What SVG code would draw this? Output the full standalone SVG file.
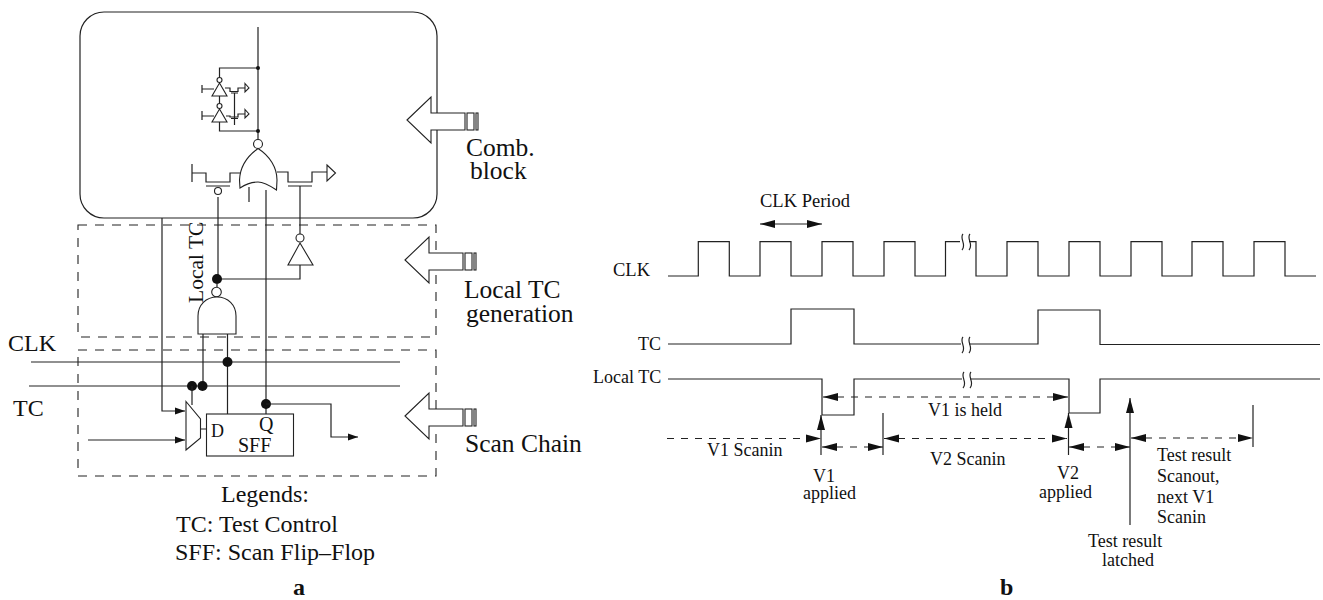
<svg xmlns="http://www.w3.org/2000/svg" width="1323" height="600" viewBox="0 0 1323 600">
<defs>
<marker id="ah" markerUnits="userSpaceOnUse" markerWidth="16" markerHeight="9" refX="15" refY="4.500" orient="auto-start-reverse"><path d="M0 0.500L15 4.500L0 8.500Z" fill="#111"/></marker>
<marker id="sm" markerUnits="userSpaceOnUse" markerWidth="11" markerHeight="8" refX="10" refY="4" orient="auto"><path d="M0 0.500L10 4L0 7.500Z" fill="#111"/></marker>
<g id="block"><path d="M0 0L24 -23V-7H58V10H24V23Z"/><rect x="60" y="-7" width="7" height="17"/><rect x="69" y="-7" width="2" height="17"/></g>
</defs>
<style>
text{font-family:"Liberation Serif","Times New Roman",serif;fill:#111}
.l{font-size:18px}
.m{font-size:24px}
.b{font-size:25.500px}
.w{fill:none;stroke:#222;stroke-width:1.200}
.g{fill:#fff;stroke:#222;stroke-width:1.100}
.d{fill:none;stroke:#222;stroke-width:1.100;stroke-dasharray:9 8}
.t{fill:none;stroke:#222;stroke-width:1.100;stroke-dasharray:7 7}
.n{fill:#111}
</style>
<rect width="1323" height="600" fill="#fff"/>
<g id="comb-block"><rect class="w" x="80" y="12" width="357" height="206" rx="24"/></g>
<g id="local-tc-generation"><rect class="d" x="78" y="225" width="358" height="112"/></g>
<g id="scan-chain"><rect class="d" x="78" y="350" width="358" height="126"/></g>
<g id="small-gates">
<path class="w" d="M258 27V144M258 68H219.500V77.500M258 131H219.500V122M219.500 96V103.500"/>
<circle class="n" cx="258" cy="68" r="2"/><circle class="n" cx="258" cy="131" r="2"/>
<circle class="g" cx="219.500" cy="80" r="2.500"/><circle class="g" cx="219.500" cy="106" r="2.500"/>
<path class="g" d="M219.500 83L227 96H212Z"/><path class="g" d="M219.500 109L227 122H212Z"/>
<path class="w" d="M202 85V93M202 89H214M225 88H230V91.500H238V88H245M231 93H238M234.500 93V125M202 111V120M202 116H214M226 116H230V117H238V114H245M231 118.500H238"/>
<path class="g" d="M245 83.500L249 88L245 92Z"/><path class="g" d="M245 109.500L249 114L245 118Z"/>
</g>
<g id="nor-gate">
<circle class="g" cx="258" cy="144" r="4.500"/>
<path class="g" d="M258 148.500C270 156 277 168 277 180L276.500 190C269 185 263 182 258 182C251 182 246 184 240 188L239.500 180C240 168 246 157 258 148.500Z"/>
<path class="w" d="M192 164V182M192 173H206V182H230V173H240M206 186H230M218 197V279M277 172H288V182H312V172H327M288 186H312M300 186V234M249 187V202M266 190V414"/>
<circle class="g" cx="218" cy="191" r="3.500"/>
<path class="g" d="M327 165L335.500 173L327 181Z"/>
</g>
<g id="inverter">
<circle class="g" cx="300" cy="238" r="4"/>
<path class="g" d="M300 243L313 265H288Z"/>
<path class="w" d="M300 265V279H217"/>
</g>
<g id="nand-gate">
<circle class="n" cx="217" cy="279" r="5"/>
<circle class="g" cx="216.500" cy="292" r="4.800"/>
<path class="g" d="M198 334V316C198 305 206 297 217 297C228 297 236 305 236 316V334Z"/>
<path class="w" d="M217 284V287M203 334V386M227.500 334V418M222 417L227 421.500L231 417"/>
</g>
<g id="connectors">
<path class="w" d="M31 362H400M29 386H400"/>
<circle class="n" cx="227.500" cy="362" r="5"/><circle class="n" cx="192" cy="386" r="5"/><circle class="n" cx="202.500" cy="386" r="5"/><circle class="n" cx="266" cy="404" r="5"/>
<path class="w" d="M162 218V411H185" marker-end="url(#sm)"/>
<path class="w" d="M88 440H185" marker-end="url(#sm)"/>
<path class="w" d="M192 386V405M200.500 429H207"/>
<path class="w" d="M266 404H331V437H358" marker-end="url(#sm)"/>
</g>
<g id="sff">
<path class="g" d="M186 401.500L200.500 419V438L186 450Z"/>
<rect class="g" x="206.500" y="414" width="87" height="42"/>
<text x="211" y="437" font-size="18">D</text><text x="259" y="431" font-size="20">Q</text><text x="238" y="452" font-size="20">SFF</text>
</g>
<g id="block-arrows" fill="#fff" stroke="#222" stroke-width="1.100">
<use href="#block" x="407" y="120"/><use href="#block" x="405" y="260"/><use href="#block" x="405" y="416"/>
</g>
<g id="left-labels">
<text transform="translate(203 303) rotate(-90)" font-size="21.500">Local TC</text>
<text class="m" x="8" y="351">CLK</text><text class="m" x="13" y="416">TC</text>
<text class="b"><tspan x="466" y="156">Comb.</tspan><tspan x="470" y="179">block</tspan></text>
<text class="b"><tspan x="464" y="298">Local TC</tspan><tspan x="466" y="322">generation</tspan></text>
<text class="b" x="465" y="452">Scan Chain</text>
<text class="m" x="221" y="502">Legends:</text>
<text class="m" x="176" y="532">TC: Test Control</text>
<text class="m" x="175" y="560">SFF: Scan Flip–Flop</text>
<text x="293" y="594.800" font-size="24" font-weight="bold">a</text>
</g>
<g id="waveforms">
<path class="w" d="M668 276H698.300V241.700H729.300V276H760V241.700H791V276H822V241.700H853V276H884V241.700H915V276H945.500V241.700H976V276H1007V241.700H1038V276H1069V241.700H1100V276H1131V241.700H1162V276H1192V241.700H1223V276H1254V241.700H1285V276H1316"/>
<path class="w" d="M668 344H791V309H854V344H1038V310H1100V344.500H1320"/>
<path class="w" d="M668 379H822V415H854V379H1069V413H1100V379H1320"/>
<g fill="#fff"><rect x="960" y="238" width="9" height="10" stroke="none"/><rect x="961" y="339" width="8" height="10" stroke="none"/><rect x="962" y="374" width="8" height="10" stroke="none"/></g>
<path class="w" d="M963 234C959 238 967 245 962 250M970 234C966 238 974 245 969 250M963 337C959 341 967 348 962 353M970 337C966 341 974 348 969 353M964 372C960 376 968 383 963 388M971 372C967 376 975 383 970 388"/>
</g>
<g id="timing-connectors">
<path class="w" d="M760 224H822" marker-start="url(#ah)" marker-end="url(#ah)"/>
<path class="t" d="M823 397H1068" marker-start="url(#ah)" marker-end="url(#ah)"/>
<path class="t" d="M667 438.500H821" marker-end="url(#ah)"/>
<path class="t" d="M822 447H883" marker-start="url(#ah)" marker-end="url(#ah)"/>
<path class="t" d="M884 438.500H1067" marker-start="url(#ah)" marker-end="url(#ah)"/>
<path class="t" d="M1069 447H1130" marker-start="url(#ah)" marker-end="url(#ah)"/>
<path class="t" d="M1131 438H1253" marker-start="url(#ah)" marker-end="url(#ah)"/>
<path class="w" d="M821 455V415" marker-end="url(#ah)"/>
<path class="w" d="M1068.500 455V413" marker-end="url(#ah)"/>
<path class="w" d="M1130 525V398" marker-end="url(#ah)"/>
<path class="w" d="M883 413V455M1253 405V447"/>
</g>
<g id="timing-labels">
<text x="760" y="207" font-size="18.500">CLK Period</text>
<text x="613" y="276" font-size="18.500">CLK</text>
<text class="l" x="638" y="350">TC</text>
<text class="l" x="593" y="383">Local TC</text>
<text class="l" x="928" y="416">V1 is held</text>
<text class="l" x="707" y="456">V1 Scanin</text>
<text class="l" x="930" y="465">V2 Scanin</text>
<text class="l"><tspan x="813" y="482">V1</tspan><tspan x="803" y="499">applied</tspan></text>
<text class="l" x="1057" y="479">V2</text><text class="l" x="1039" y="498">applied</text>
<text class="l" x="1157" y="461">Test result</text><text class="l" x="1157" y="482">Scanout,</text><text class="l" x="1157" y="503">next V1</text><text class="l" x="1157" y="523">Scanin</text>
<text class="l" x="1088" y="547">Test result</text><text class="l" x="1102" y="566">latched</text>
<text x="1000" y="594.800" font-size="24" font-weight="bold">b</text>
</g>
</svg>
